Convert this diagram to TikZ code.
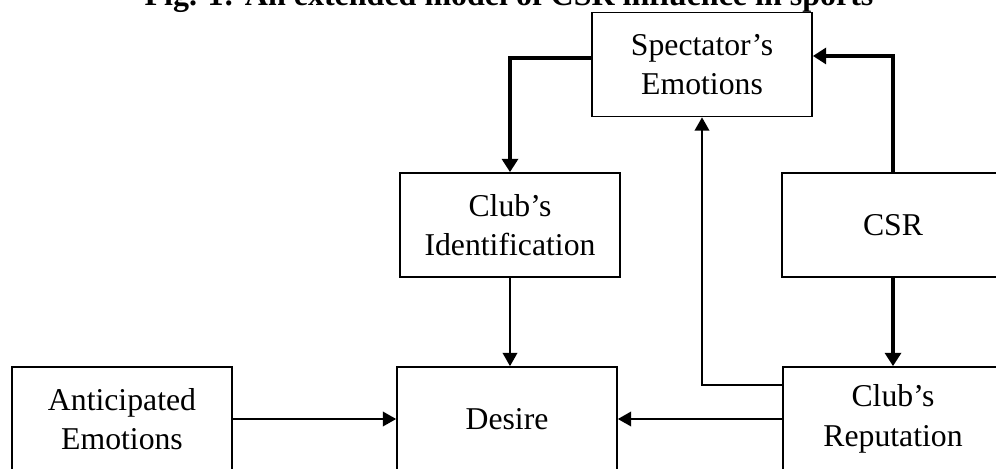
\documentclass[tikz,border=0pt]{standalone}
\usepackage{fontspec}
\setmainfont{Liberation Serif}
\usetikzlibrary{arrows.meta}

\tikzset{
  box/.style={draw, line width=1.3pt, minimum width=165pt, minimum height=78pt,
              align=center, inner sep=0pt, font=\fontsize{23.8}{29.6}\selectfont},
  thinlink/.style={line width=1.3pt, -{Triangle[length=10pt,width=11pt]}},
  thicklink/.style={line width=3.5pt, -{Triangle[length=10pt,width=12pt]}},
  title/.style={font=\fontsize{24}{29}\selectfont\bfseries, anchor=base, inner sep=0pt}
}

\begin{document}
% one unit = one pixel of a 996 x 468 canvas, y pointing down
\begin{tikzpicture}[x=0.75pt, y=-0.75pt]
  \useasboundingbox (0,0) rectangle (996,468);
  \clip (0,0) rectangle (996,468);

  \node[title] (caption) at (509,5) {Fig. 1: An extended model of CSR influence in sports};

  \node[box] (spec)  at (702,64.5) {Spectator's\\Emotions};
  \node[box] (ident) at (510,225)  {Club's\\Identification};
  \node[box, minimum width=166.5pt] (csr) at (893,225) {CSR};
  \node[box] (antic) at (122,419)  {Anticipated\\Emotions};
  \node[box] (desire) at (507,419) {Desire};
  \node[box] (rep)   at (893,419)  {Club's\\Reputation};

  % emotional path through the spectator
  \draw[thicklink] ([yshift=5pt]spec.west) -| (ident.north);
  \draw[thicklink] (csr.north) |- ([yshift=6.4pt]spec.east);
  \draw[thicklink] (csr.south) -- (rep.north);

  % direct effects on desire
  \draw[thinlink] (ident.south) -- (ident.south |- desire.north);
  \draw[thinlink] (antic.east) -- (desire.west);
  \draw[thinlink] (rep.west) -- (desire.east);
  \draw[thinlink] ([yshift=25.5pt]rep.west) -| (spec.south);
\end{tikzpicture}
\end{document}
